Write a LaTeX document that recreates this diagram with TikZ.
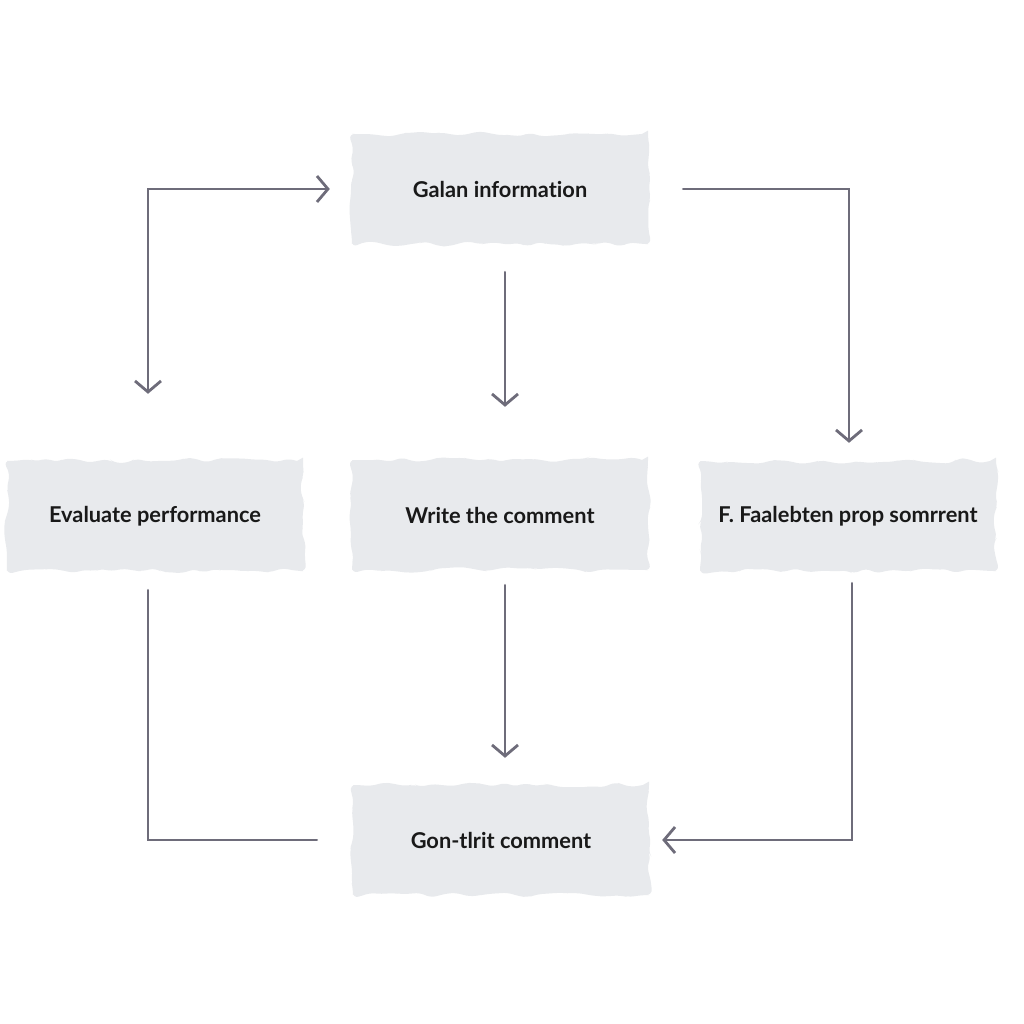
\documentclass[tikz,border=0pt]{standalone}
\usepackage{fontspec}
\setmainfont{Lato}[Ligatures={NoCommon,NoRare,NoDiscretionary}]
\usetikzlibrary{arrows.meta,decorations.pathmorphing}
\definecolor{blobgray}{HTML}{E8EAED}
\definecolor{linegray}{HTML}{6E6C7A}
\tikzset{
  blob/.style = {rectangle, fill=blobgray, minimum width=296pt, minimum height=110pt, rounded corners=6pt, decorate, decoration={random steps, segment length=10pt, amplitude=3pt}, font=\bfseries\fontsize{21.8}{26}\selectfont, text=black!90},
  conn/.style = {line width=2.8pt, draw=linegray, line cap=round, line join=miter},
  >={Straight Barb[length=11pt, width=26pt, line width=2.8pt]}
}
\begin{document}
\begin{tikzpicture}[x=1pt,y=-1pt]
  \useasboundingbox[fill=white] (0,0) rectangle (1024,1024);
  \node[blob] (gather) at (500,189) {Galan information};
  \node[blob] (eval)   at (155,516) {Evaluate performance};
  \node[blob] (write)  at (500,515) {Write the comment};
  \node[blob] (falab)  at (848,516) {F. Faalebten prop somrrent};
  \node[blob] (gon)    at (501,840) {Gon-tlrit comment};
  \draw[conn,<->,shorten <=67pt,shorten >=22pt] ([xshift=-7pt]eval.north) |- (gather.west);
  \draw[conn,->,shorten <=28pt,shorten >=53pt] ([xshift=5pt]gather.south) -- ([xshift=5pt]write.north);
  \draw[conn,->,shorten <=35pt,shorten >=18pt] (gather.east) -| ([xshift=1pt]falab.north);
  \draw[conn,->,shorten <=15pt,shorten >=27pt] ([xshift=5pt]write.south) -- ([xshift=4pt]gon.north);
  \draw[conn,shorten <=19pt,shorten >=36pt] ([xshift=-7pt]eval.south) |- (gon.west);
  \draw[conn,->,shorten <=12pt,shorten >=13pt] ([xshift=4pt]falab.south) |- (gon.east);
\end{tikzpicture}
\end{document}
